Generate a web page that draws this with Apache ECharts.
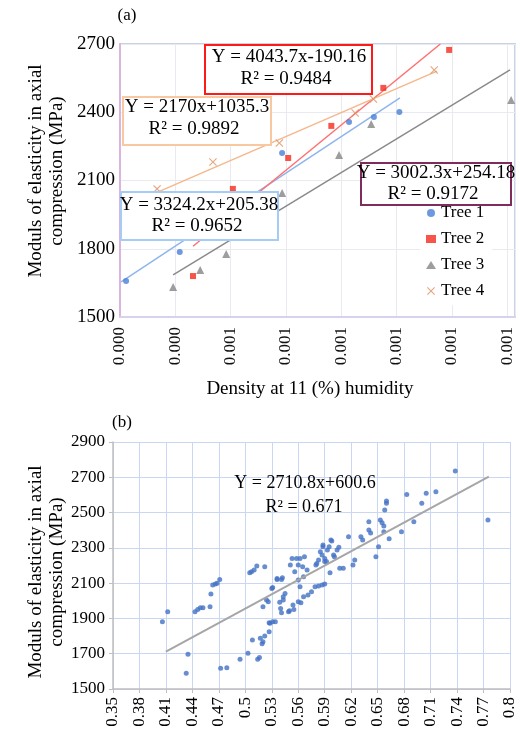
<!DOCTYPE html>
<html>
<head>
<meta charset="utf-8">
<script src="https://cdn.jsdelivr.net/npm/echarts@6/dist/echarts.min.js"></script>
<style>
html,body{margin:0;padding:0;background:#fff;}
#chart{width:520px;height:738px;}
</style>
</head>
<body>
<div id="chart"></div>
<script>
// ---------- Chart (a) data ----------
const treeNames = ['Tree 1', 'Tree 2', 'Tree 3', 'Tree 4'];
const tree1 = [[0.000311,1658],[0.000408,1786],[0.000593,2221],[0.000714,2357],[0.000759,2379],[0.000805,2401]];
const tree2 = [[0.000432,1680],[0.000504,2063],[0.000604,2199],[0.000682,2340],[0.000776,2507],[0.000895,2674]];
const tree3 = [[0.000396,1632],[0.000445,1707],[0.000492,1777],[0.000593,2045],[0.000696,2212],[0.000754,2348],[0.001007,2454]];
const tree4 = [[0.000367,2063],[0.000468,2181],[0.000588,2265],[0.000725,2397],[0.000758,2458],[0.000868,2586]];
const trend1 = [[0.000302,1654],[0.000806,2463]];
const trend2 = [[0.000432,1811],[0.000879,2700]];
const trend3 = [[0.000396,1685],[0.001005,2586]];
const trend4 = [[0.000369,2050],[0.000873,2581]];
const eqA = ['Y = 3324.2x+205.38', 'Y = 4043.7x-190.16', 'Y = 3002.3x+254.18', 'Y = 2170x+1035.3'];
const r2A = ['R\u00B2 = 0.9652', 'R\u00B2 = 0.9484', 'R\u00B2 = 0.9172', 'R\u00B2 = 0.9892'];
const xTickLabelsA = ['0.000','0.000','0.001','0.001','0.001','0.001','0.001','0.001'];

// ---------- Chart (b) data ----------
const scatterB = [
 [0.406,1881],[0.412,1938],[0.433,1589],[0.435,1697],
 [0.443,1938],[0.446,1951],[0.449,1961],[0.452,1961],[0.460,1966],[0.461,2038],
 [0.463,2089],[0.466,2095],[0.468,2099],[0.471,2121],
 [0.472,1617],[0.479,1621],[0.494,1668],[0.503,1702],
 [0.505,2159],[0.507,2165],[0.510,2174],[0.513,2197],[0.522,2193],
 [0.508,1778],[0.514,1668],[0.516,1679],[0.517,1787],[0.519,1757],[0.520,1768],[0.522,1800],
 [0.520,1966],[0.524,2004],[0.526,1995],[0.527,1825],[0.527,1876],[0.528,1872],[0.530,2069],[0.531,2076],[0.531,1881],[0.534,1881],
 [0.536,2121],[0.536,2127],[0.541,2121],[0.542,2131],
 [0.539,1991],[0.540,1956],[0.541,1932],[0.543,2023],[0.545,2042],[0.543,2004],[0.549,1938],[0.550,1944],[0.554,1976],[0.555,1951],[0.560,1995],
 [0.551,2203],[0.553,2240],[0.556,2165],[0.558,2240],[0.560,2118],[0.560,2203],[0.562,2240],[0.562,2080],[0.563,1989],[0.565,2193],[0.566,2023],[0.566,2136],[0.567,2249],[0.570,2174],[0.571,2033],[0.575,2051],
 [0.579,2080],[0.583,2084],[0.587,2089],[0.590,2095],
 [0.580,2203],[0.581,2212],[0.583,2231],[0.585,2278],[0.587,2259],[0.588,2316],[0.588,2306],[0.590,2240],[0.590,2222],[0.592,2222],[0.593,2288],[0.595,2306],[0.596,2159],[0.597,2344],[0.598,2339],[0.600,2259],[0.601,2249],[0.604,2288],[0.606,2303],
 [0.607,2184],[0.611,2184],[0.617,2363],[0.622,2203],[0.624,2231],
 [0.631,2363],[0.633,2344],[0.640,2448],[0.640,2401],[0.642,2384],[0.648,2250],[0.651,2306],[0.653,2458],[0.655,2443],[0.657,2424],[0.657,2392],[0.658,2515],[0.660,2553],[0.660,2566],[0.663,2352],
 [0.677,2392],[0.683,2603],[0.691,2448],[0.700,2553],[0.705,2609],[0.716,2618],[0.738,2736],[0.775,2458]
];
const trendB = [[0.41,1712],[0.776,2704]];
const eqB = 'Y = 2710.8x+600.6';
const r2B = 'R\u00B2 = 0.671';
const xTickLabelsB = ['0.35','0.38','0.41','0.44','0.47','0.5','0.53','0.56','0.59','0.62','0.65','0.68','0.71','0.74','0.77','0.8'];
const yAxisNameLines = ['Moduls of elasticity in axial', 'compression (MPa)'];
const xAxisNameA = 'Density at 11 (%) humidity';

const SERIF = '"Liberation Serif","Times New Roman",serif';
const chart = echarts.init(document.getElementById('chart'), null, {renderer:'canvas'});

function txt(x, y, text, size, opts) {
  opts = opts || {};
  return {
    type: 'text', x: x, y: y, rotation: opts.rotation || 0, z: 120,
    style: {
      text: text, fill: '#000', font: size + 'px ' + SERIF,
      align: 'center', textAlign: 'center',
      verticalAlign: 'middle', textVerticalAlign: 'middle'
    }
  };
}
function box(x, y, w, h, stroke) {
  return { type: 'rect', z: 110, shape: {x: x, y: y, width: w, height: h},
    style: {fill: '#fff', stroke: stroke, lineWidth: 2} };
}
const plain = function (v) { return String(v); };
const xIcon = 'path://M0,1L1,0L5,4L9,0L10,1L6,5L10,9L9,10L5,6L1,10L0,9L4,5Z';

const option = {
  animation: false,
  backgroundColor: '#fff',
  grid: [
    {left: 120, right: 5, top: 44, bottom: 421, show: true, borderColor: '#c8d2e8', borderWidth: 2, backgroundColor: 'transparent'},
    {left: 113, right: 10, top: 442, bottom: 49}
  ],
  legend: {
    orient: 'vertical', left: 420, top: 199, itemGap: 8, itemWidth: 10, itemHeight: 8,
    backgroundColor: '#fff', padding: [5, 8, 5, 6],
    data: [
      {name: 'Tree 1', icon: 'circle'},
      {name: 'Tree 2', icon: 'rect'},
      {name: 'Tree 3', icon: 'triangle'},
      {name: 'Tree 4', icon: xIcon}
    ],
    textStyle: {fontFamily: SERIF, fontSize: 17, color: '#000', lineHeight: 18}
  },
  xAxis: [
    {
      type: 'value', gridIndex: 0, min: 0.0003, max: 0.001014, interval: 0.0001,
      axisLine: {show: true, lineStyle: {color: '#d8d2ee', width: 2}},
      axisTick: {show: false},
      splitLine: {show: true, lineStyle: {color: '#e9e9f0', width: 1}},
      axisLabel: {rotate: 90, margin: 10, showMaxLabel: false, color: '#111', fontFamily: SERIF, fontSize: 17,
        formatter: function (v, i) { return xTickLabelsA[i] !== undefined ? xTickLabelsA[i] : ''; }}
    },
    {
      type: 'value', gridIndex: 1, min: 0.35, max: 0.8, interval: 0.03,
      axisLine: {show: true, lineStyle: {color: '#bfbfbf', width: 1.5}},
      axisTick: {show: true, length: 4, lineStyle: {color: '#bfbfbf'}},
      splitLine: {show: true, lineStyle: {color: '#c9d7f5', width: 1}},
      axisLabel: {rotate: 90, margin: 8, color: '#000', fontFamily: SERIF, fontSize: 17,
        formatter: function (v, i) { return xTickLabelsB[i] !== undefined ? xTickLabelsB[i] : ''; }}
    }
  ],
  yAxis: [
    {
      type: 'value', gridIndex: 0, min: 1500, max: 2700, interval: 300,
      axisLine: {show: true, lineStyle: {color: '#dcb4e0', width: 2}},
      axisTick: {show: false},
      splitLine: {show: true, lineStyle: {color: '#e9e9f0', width: 1}},
      axisLabel: {margin: 5, color: '#000', fontFamily: SERIF, fontSize: 19, formatter: plain}
    },
    {
      type: 'value', gridIndex: 1, min: 1500, max: 2900, interval: 200,
      axisLine: {show: true, lineStyle: {color: '#bfbfbf', width: 1.5}},
      axisTick: {show: true, length: 4, lineStyle: {color: '#bfbfbf'}},
      splitLine: {show: true, lineStyle: {color: '#c9d7f5', width: 1}},
      axisLabel: {margin: 8, color: '#000', fontFamily: SERIF, fontSize: 17, formatter: plain}
    }
  ],
  series: [
    {name: 'trend 1', type: 'line', xAxisIndex: 0, yAxisIndex: 0, data: trend1, symbol: 'none', silent: true, z: 2, lineStyle: {color: '#8fb5ec', width: 1.5}},
    {name: 'trend 2', type: 'line', xAxisIndex: 0, yAxisIndex: 0, data: trend2, symbol: 'none', silent: true, z: 2, lineStyle: {color: '#ff7070', width: 1.5}},
    {name: 'trend 3', type: 'line', xAxisIndex: 0, yAxisIndex: 0, data: trend3, symbol: 'none', silent: true, z: 2, lineStyle: {color: '#8a8a8a', width: 1.5}},
    {name: 'trend 4', type: 'line', xAxisIndex: 0, yAxisIndex: 0, data: trend4, symbol: 'none', silent: true, z: 2, lineStyle: {color: '#f5b88c', width: 1.5}},
    {name: treeNames[0], type: 'scatter', xAxisIndex: 0, yAxisIndex: 0, data: tree1, symbol: 'circle', symbolSize: 6, z: 3, itemStyle: {color: '#4a7fd8'}},
    {name: treeNames[1], type: 'scatter', xAxisIndex: 0, yAxisIndex: 0, data: tree2, symbol: 'rect', symbolSize: 6, z: 3, itemStyle: {color: '#f52a1c'}},
    {name: treeNames[2], type: 'scatter', xAxisIndex: 0, yAxisIndex: 0, data: tree3, symbol: 'triangle', symbolSize: 8, z: 3, itemStyle: {color: '#858585'}},
    {name: treeNames[3], type: 'scatter', xAxisIndex: 0, yAxisIndex: 0, data: tree4, symbol: xIcon, symbolSize: 8, z: 3, itemStyle: {color: '#de9060'}},
    {name: 'All trees', type: 'scatter', xAxisIndex: 1, yAxisIndex: 1, data: scatterB, symbol: 'circle', symbolSize: 5, z: 3, itemStyle: {color: '#4472c4'}},
    {name: 'trend all', type: 'line', xAxisIndex: 1, yAxisIndex: 1, data: trendB, symbol: 'none', silent: true, z: 4, lineStyle: {color: '#a6a6a6', width: 2}}
  ],
  graphic: [
    txt(127, 16, '(a)', 17),
    txt(122, 423, '(b)', 17),
    txt(36, 171, yAxisNameLines[0], 19, {rotation: Math.PI / 2}),
    txt(57, 171, yAxisNameLines[1], 19, {rotation: Math.PI / 2}),
    txt(36, 572, yAxisNameLines[0], 19, {rotation: Math.PI / 2}),
    txt(57, 572, yAxisNameLines[1], 19, {rotation: Math.PI / 2}),
    txt(310, 389, xAxisNameA, 19),
    // Tree 2 box (red)
    box(205, 45, 167, 49, '#ff1a1a'),
    txt(289, 57, eqA[1], 19), txt(286, 79, r2A[1], 19),
    // Tree 4 box (orange)
    box(123, 97, 148, 48, '#f8c9a0'),
    txt(197, 107, eqA[3], 19), txt(194, 129, r2A[3], 19),
    // Tree 1 box (blue)
    box(121, 192, 157, 48, '#a4ccf4'),
    txt(199, 205, eqA[0], 19), txt(197, 226, r2A[0], 19),
    // Tree 3 box (purple)
    box(361, 163, 150, 42, '#7f2c5c'),
    txt(436, 173, eqA[2], 19), txt(433, 194, r2A[2], 19),
    // Chart (b) equation
    txt(305, 483, eqB, 18), txt(304, 507, r2B, 18)
  ]
};
chart.setOption(option);
</script>
</body>
</html>
